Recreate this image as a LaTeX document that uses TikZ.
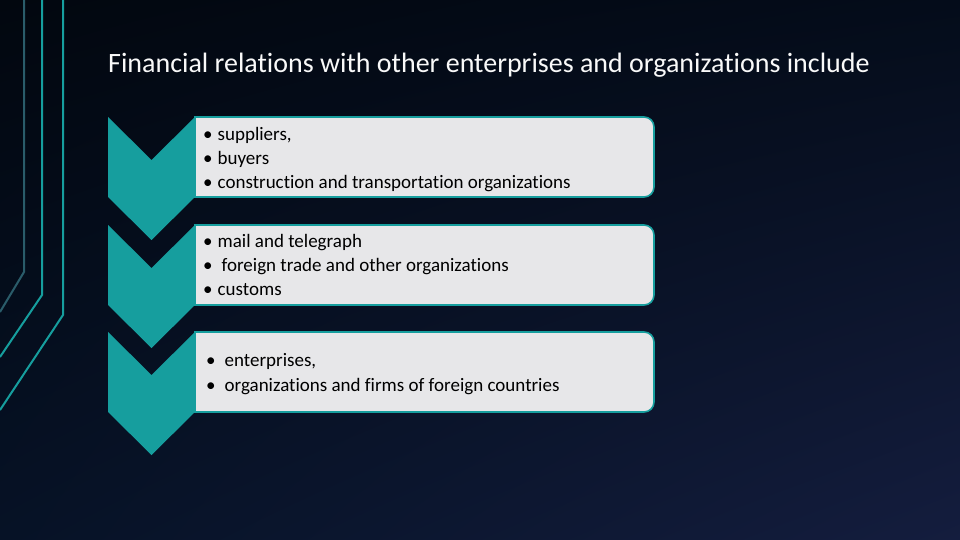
\documentclass[tikz,border=0pt]{standalone}
\usepackage{fontspec}
\usetikzlibrary{shadings}
\setmainfont{Carlito}[RawFeature={-liga,-clig}]
\definecolor{teal1}{HTML}{169E9E}
\definecolor{tealdim}{HTML}{2A5C6A}
\definecolor{boxfill}{HTML}{E7E7E9}
\definecolor{bgA}{HTML}{02070F}
\definecolor{bgB}{HTML}{040C1A}
\definecolor{bgC}{HTML}{061226}
\definecolor{bgD}{HTML}{141D3E}
\begin{document}
\begin{tikzpicture}[x=1pt,y=-1pt,
  chev/.style={fill=teal1},
  itembox/.style={fill=boxfill,draw=teal1,line width=1.6pt},
  deco/.style={line width=2pt,draw=teal1},
  item/.style={anchor=base west,inner sep=0pt,font=\fontsize{19}{22}\selectfont,text=black},
  title/.style={anchor=base west,inner sep=0pt,font=\fontsize{28}{32}\selectfont,text=white!95!gray}]
\useasboundingbox (0,0) rectangle (960,540);
\shade[upper left=bgA,upper right=bgB,lower left=bgC,lower right=bgD] (0,0) rectangle (960,540);
% decorative lines
\draw[deco,draw=tealdim] (24,0) -- (24,272) -- (0,312);
\draw[deco] (42,0) -- (42,295) -- (0,357);
\draw[deco] (63,0) -- (63,315) -- (0,410);
% title
\node[title] (t) at (108,72.5) {Financial relations with other enterprises and organizations include};
% boxes
\foreach \n/\y in {1/117,2/225,3/332}{
  \fill[chev] (108,\y) -- (151.5,\y+43) -- (195,\y) -- (195,\y+80) -- (151.5,\y+123) -- (108,\y+80) -- cycle;
  \draw[itembox] (195,\y) -- (644,\y) arc[start angle=90,end angle=0,radius=10pt] -- (654,\y+70) arc[start angle=0,end angle=-90,radius=10pt] -- (195,\y+80) -- cycle;
}
\node[item] (a1) at (203,140.5) {•\hspace{5pt}suppliers,};
\node[item] (a2) at (203,164.5) {•\hspace{5pt}buyers};
\node[item] (a3) at (203,188.5) {•\hspace{5pt}construction and transportation organizations};
\node[item] (b1) at (203,247) {•\hspace{5pt}mail and telegraph};
\node[item] (b2) at (203,271) {•\hspace{9pt}foreign trade and other organizations};
\node[item] (b3) at (203,295) {•\hspace{5pt}customs};
\node[item] (c1) at (206,366) {•\hspace{9pt}enterprises,};
\node[item] (c2) at (206,391) {•\hspace{9pt}organizations and firms of foreign countries};
\end{tikzpicture}
\end{document}
